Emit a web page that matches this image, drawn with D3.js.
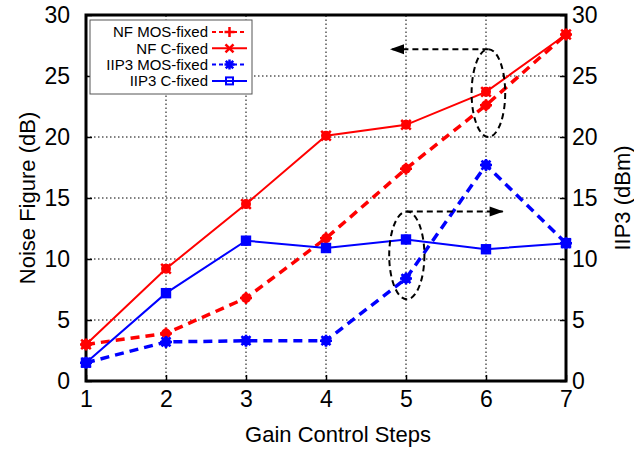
<!DOCTYPE html>
<html>
<head>
<meta charset="utf-8">
<script src="https://cdn.jsdelivr.net/npm/d3@7"></script>
<style>
  body { margin: 0; background: #fff; }
  svg { display: block; font-family: "Liberation Sans", Arial, sans-serif; }
</style>
</head>
<body>
<svg id="chart" width="634" height="452"></svg>
<script>
// chart values
const steps = [1, 2, 3, 4, 5, 6, 7];
const nfMos = [3.0, 3.9, 6.8, 11.7, 17.4, 22.6, 28.4];
const nfC = [3.0, 9.2, 14.5, 20.1, 21.0, 23.7, 28.4];
const iip3Mos = [1.5, 3.2, 3.3, 3.3, 8.4, 17.7, 11.3];
const iip3C = [1.5, 7.2, 11.5, 10.9, 11.6, 10.8, 11.3];
const yTicks = [0, 5, 10, 15, 20, 25, 30];

const seriesList = [
  { name: "NF MOS-fixed", values: nfMos, color: "#ff0000", dashed: true, marker: "plus" },
  { name: "NF C-fixed", values: nfC, color: "#ff0000", dashed: false, marker: "cross" },
  { name: "IIP3 MOS-fixed", values: iip3Mos, color: "#0000ff", dashed: true, marker: "star" },
  { name: "IIP3 C-fixed", values: iip3C, color: "#0000ff", dashed: false, marker: "square" }
];

const margin = { top: 15, right: 68, bottom: 71, left: 86 };
const width = 634, height = 452;
const svg = d3.select("#chart");

const x = d3.scaleLinear().domain([1, 7]).range([margin.left, width - margin.right]);
const y = d3.scaleLinear().domain([0, 30]).range([height - margin.bottom, margin.top]);

// grid
const grid = svg.append("g").attr("stroke", "#000").attr("stroke-width", 1)
  .attr("stroke-dasharray", "1.5,2.5");
steps.slice(1, -1).forEach(s => {
  grid.append("line").attr("x1", x(s)).attr("x2", x(s))
    .attr("y1", y(0)).attr("y2", y(30));
});
yTicks.slice(1, -1).forEach(v => {
  grid.append("line").attr("x1", x(1)).attr("x2", x(7))
    .attr("y1", y(v)).attr("y2", y(v));
});

// axes (ticks inward, gnuplot style)
const tickFont = 23;
const titleFont = 22;
const axB = svg.append("g").attr("transform", `translate(0,${y(0)})`)
  .call(d3.axisBottom(x).tickValues(steps).tickFormat(d3.format("d")).tickSizeInner(-6).tickSizeOuter(0).tickPadding(10));
const axL = svg.append("g").attr("transform", `translate(${x(1)},0)`)
  .call(d3.axisLeft(y).tickValues(yTicks).tickSizeInner(-6).tickSizeOuter(0).tickPadding(16));
const axR = svg.append("g").attr("transform", `translate(${x(7)},0)`)
  .call(d3.axisRight(y).tickValues(yTicks).tickSizeInner(-6).tickSizeOuter(0).tickPadding(6));
[axB, axL, axR].forEach(a => {
  a.select(".domain").remove();
  a.selectAll("line").attr("stroke", "#000").attr("stroke-width", 1.5);
  a.selectAll("text").attr("font-family", "'Liberation Sans', Arial, sans-serif")
    .attr("font-size", tickFont).attr("fill", "#000");
});

// frame
svg.append("rect")
  .attr("x", x(1)).attr("y", y(30))
  .attr("width", x(7) - x(1)).attr("height", y(0) - y(30))
  .attr("fill", "none").attr("stroke", "#000").attr("stroke-width", 3);

// marker drawing
function drawMarker(g, kind, cx, cy, color, size) {
  const s = size;
  if (kind === "plus") {
    g.append("path").attr("d", `M${cx - s},${cy}H${cx + s}M${cx},${cy - s}V${cy + s}`)
      .attr("stroke", color).attr("stroke-width", 2.5);
  } else if (kind === "cross") {
    const d = s * 0.8;
    g.append("path").attr("d", `M${cx - d},${cy - d}L${cx + d},${cy + d}M${cx - d},${cy + d}L${cx + d},${cy - d}`)
      .attr("stroke", color).attr("stroke-width", 2.5);
  } else if (kind === "star") {
    const d = s * 0.75;
    g.append("path").attr("d", `M${cx - s},${cy}H${cx + s}M${cx},${cy - s}V${cy + s}M${cx - d},${cy - d}L${cx + d},${cy + d}M${cx - d},${cy + d}L${cx + d},${cy - d}`)
      .attr("stroke", color).attr("stroke-width", 2.5);
  } else if (kind === "square") {
    g.append("rect").attr("x", cx - s * 0.7).attr("y", cy - s * 0.7)
      .attr("width", s * 1.4).attr("height", s * 1.4)
      .attr("fill", "none").attr("stroke", color).attr("stroke-width", 2);
  }
}

// series
const line = d3.line().x(d => x(d[0])).y(d => y(d[1]));
seriesList.forEach(sr => {
  const pts = steps.map((s, i) => [s, sr.values[i]]);
  const g = svg.append("g");
  g.append("path").datum(pts).attr("d", line)
    .attr("fill", "none").attr("stroke", sr.color)
    .attr("stroke-width", sr.dashed ? 3.5 : 2)
    .attr("stroke-dasharray", sr.dashed ? "9,6" : null);
  pts.forEach(p => {
    g.append("circle").attr("cx", x(p[0])).attr("cy", y(p[1])).attr("r", 5).attr("fill", sr.color);
    drawMarker(g, sr.marker, x(p[0]), y(p[1]), sr.color, 6);
  });
});

// annotations: dashed ellipses and arrows
const ann = svg.append("g").attr("stroke", "#000").attr("stroke-width", 2)
  .attr("stroke-dasharray", "6,4").attr("fill", "none");
const notes = [
  { cx: 6.03, cy: 23.6, rx: 0.21, ry: 3.6, toX: 4.8 },
  { cx: 5.01, cy: 10.3, rx: 0.22, ry: 3.6, toX: 6.22 }
];
notes.forEach(n => {
  ann.append("ellipse")
    .attr("cx", x(n.cx)).attr("cy", y(n.cy))
    .attr("rx", x(n.cx + n.rx) - x(n.cx)).attr("ry", y(n.cy) - y(n.cy + n.ry));
  ann.append("line")
    .attr("x1", x(n.cx)).attr("y1", y(n.cy + n.ry))
    .attr("x2", x(n.toX)).attr("y2", y(n.cy + n.ry));
  const tipX = x(n.toX), tipY = y(n.cy + n.ry);
  const dir = n.toX < n.cx ? -1 : 1;
  svg.append("path")
    .attr("d", `M${tipX},${tipY}L${tipX - dir * 14},${tipY - 5}L${tipX - dir * 14},${tipY + 5}Z`)
    .attr("fill", "#000");
});

// legend
const lg = svg.append("g");
lg.append("rect").attr("x", 90).attr("y", 20).attr("width", 162).attr("height", 74)
  .attr("fill", "#fff").attr("stroke", "#555").attr("stroke-width", 1);
seriesList.forEach((sr, i) => {
  const ly = 32 + i * 16.3;
  lg.append("text").attr("x", 208).attr("y", ly).attr("dy", "0.35em")
    .attr("text-anchor", "end").attr("font-size", 15).attr("fill", "#000").text(sr.name);
  lg.append("line").attr("x1", 212).attr("x2", 247).attr("y1", ly).attr("y2", ly)
    .attr("stroke", sr.color).attr("stroke-width", 2)
    .attr("stroke-dasharray", sr.dashed ? "4,3" : null);
  drawMarker(lg, sr.marker, 229.5, ly, sr.color, 5);
});

// axis titles
svg.append("text").attr("x", (x(1) + x(7)) / 2 + 12).attr("y", 434).attr("dy", "0.35em")
  .attr("text-anchor", "middle").attr("font-size", titleFont).text("Gain Control Steps");
svg.append("text").attr("transform", `translate(27,${(y(0) + y(30)) / 2}) rotate(-90)`)
  .attr("dy", "0.35em").attr("text-anchor", "middle").attr("font-size", titleFont).text("Noise Figure (dB)");
svg.append("text").attr("transform", `translate(622,${(y(0) + y(30)) / 2}) rotate(-90)`)
  .attr("dy", "0.35em").attr("text-anchor", "middle").attr("font-size", titleFont).text("IIP3 (dBm)");
</script>
</body>
</html>
